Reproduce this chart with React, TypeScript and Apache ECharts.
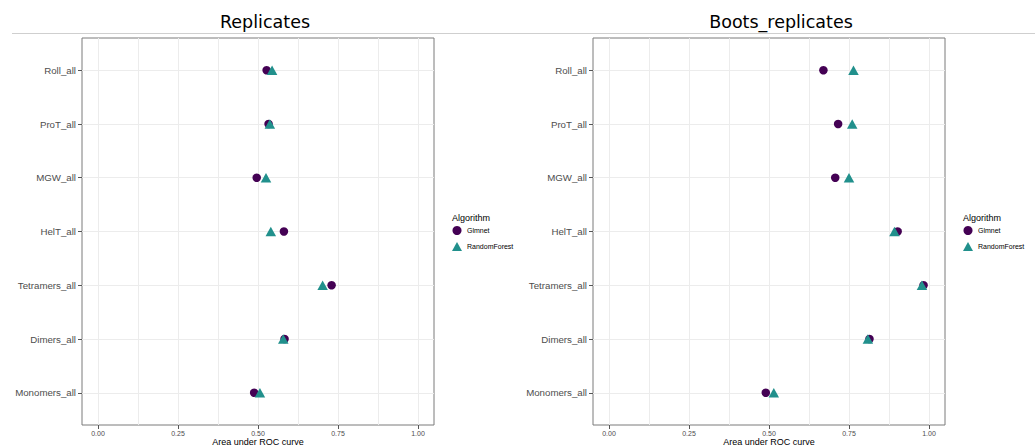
import React, { useEffect, useRef } from "react";
import * as echarts from "echarts";

const categories = ["Monomers_all", "Dimers_all", "Tetramers_all", "HelT_all", "MGW_all", "ProT_all", "Roll_all"];
const xTicks = [0, 0.25, 0.5, 0.75, 1];
const xGridLines = [0, 0.125, 0.25, 0.375, 0.5, 0.625, 0.75, 0.875, 1];
const panelTitles = ["Replicates", "Boots_replicates"];
const seriesNames = ["Glmnet", "RandomForest"];

// values ordered as categories (bottom to top)
const replicatesGlmnet = [0.488, 0.583, 0.730, 0.581, 0.496, 0.533, 0.527];
const replicatesRF = [0.506, 0.579, 0.702, 0.540, 0.525, 0.537, 0.544];
const bootsGlmnet = [0.490, 0.814, 0.983, 0.902, 0.707, 0.716, 0.670];
const bootsRF = [0.515, 0.809, 0.978, 0.892, 0.750, 0.760, 0.764];

const COL_G = "#440154";
const COL_RF = "#21908C";
const FONT = "'Liberation Sans', Arial, sans-serif";
const TITLE_FONT = "'DejaVu Sans', Verdana, sans-serif";

export default function App() {
  const ref = useRef<HTMLDivElement>(null);
  useEffect(() => {
    document.body.style.margin = "0";
    const chart = echarts.init(ref.current!, null, { renderer: "svg" });
    const grids = [
      { left: 82, top: 38, width: 352, height: 387 },
      { left: 593, top: 38, width: 352, height: 387 },
    ];
    const xAxes: any[] = [];
    grids.forEach((_, i) => {
      xAxes.push({
        type: "value",
        gridIndex: i,
        position: "bottom",
        min: -0.05,
        max: 1.05,
        axisLine: { show: false, onZero: false },
        axisTick: { show: true, length: 4, customValues: xTicks, lineStyle: { color: "#555" } },
        axisLabel: {
          customValues: xTicks,
          formatter: (v: number) => v.toFixed(2),
          fontSize: 7,
          color: "#4d4d4d",
          fontFamily: FONT,
          margin: 5,
        },
        splitLine: { show: false },
        name: "Area under ROC curve",
        nameLocation: "middle",
        nameGap: 12,
        nameMoveOverlap: false,
        nameTextStyle: { fontSize: 9, color: "#000", fontFamily: FONT, verticalAlign: "top" },
      });
    });
    grids.forEach((_, i) => {
      xAxes.push({
        type: "value",
        gridIndex: i,
        position: "top",
        min: -0.05,
        max: 1.05,
        axisLine: { show: false, onZero: false },
        axisTick: { show: false, customValues: xGridLines },
        axisLabel: { show: false, customValues: xGridLines },
        splitLine: { show: true, lineStyle: { color: "#ececec", width: 1 } },
      });
    });
    const idx = categories.map((_, i) => i);
    const yAxes = grids.map((_, i) => ({
      type: "value",
      gridIndex: i,
      min: -0.6,
      max: 6.6,
      axisLine: { show: false, onZero: false },
      axisTick: { show: true, length: 4, customValues: idx, lineStyle: { color: "#555" } },
      axisLabel: {
        customValues: idx,
        formatter: (v: number) => categories[Math.round(v)] ?? "",
        fontSize: 9.7,
        color: "#4d4d4d",
        fontFamily: FONT,
        margin: 6,
      },
      splitLine: { show: true, lineStyle: { color: "#ececec", width: 1 } },
    }));
    const mk = (name: string, vals: number[], gi: number) => ({
      type: "scatter",
      name,
      xAxisIndex: gi,
      yAxisIndex: gi,
      data: vals.map((v, i) => [v, i]),
      symbol: name === "Glmnet" ? "circle" : "triangle",
      symbolSize: name === "Glmnet" ? 8.5 : [10.5, 9.5],
      itemStyle: { color: name === "Glmnet" ? COL_G : COL_RF, opacity: 1 },
      z: name === "Glmnet" ? 2 : 3,
    });
    const legendFor = (left: number) => ({
      left,
      top: 221,
      orient: "vertical",
      itemWidth: 10,
      itemHeight: 9,
      itemGap: 7,
      itemTextGap: 9,
      textStyle: { fontSize: 7, color: "#000", fontFamily: FONT },
      data: [
        { name: "Glmnet", icon: "circle" },
        { name: "RandomForest", icon: "triangle" },
      ],
      selectedMode: false,
    });
    chart.setOption({
      animation: false,
      backgroundColor: "#fff",
      title: [
        { text: panelTitles[0], left: 260, top: 8, textAlign: "center", textStyle: { fontSize: 17.5, fontWeight: "normal", color: "#000", fontFamily: TITLE_FONT } },
        { text: panelTitles[1], left: 776, top: 8, textAlign: "center", textStyle: { fontSize: 17.5, fontWeight: "normal", color: "#000", fontFamily: TITLE_FONT } },
        { text: "Algorithm", left: 447, top: 208, textStyle: { fontSize: 9, fontWeight: "normal", color: "#000", fontFamily: FONT } },
        { text: "Algorithm", left: 958, top: 208, textStyle: { fontSize: 9, fontWeight: "normal", color: "#000", fontFamily: FONT } },
      ],
      graphic: [
        { type: "line", shape: { x1: 12, y1: 33.5, x2: 1035, y2: 33.5 }, style: { stroke: "#cfcfcf", lineWidth: 1 }, silent: true },
      ],
      legend: [legendFor(447), legendFor(958)],
      grid: grids.map((g) => ({
        ...g,
        show: true,
        borderColor: "#7a7a7a",
        borderWidth: 1,
        backgroundColor: "transparent",
        containLabel: false,
        outerBoundsMode: "none",
      })),
      xAxis: xAxes,
      yAxis: yAxes,
      series: [
        mk(seriesNames[0], replicatesGlmnet, 0),
        mk(seriesNames[1], replicatesRF, 0),
        mk(seriesNames[0], bootsGlmnet, 1),
        mk(seriesNames[1], bootsRF, 1),
      ],
    });
    return () => chart.dispose();
  }, []);
  return <div ref={ref} style={{ width: 1035, height: 448 }} />;
}
